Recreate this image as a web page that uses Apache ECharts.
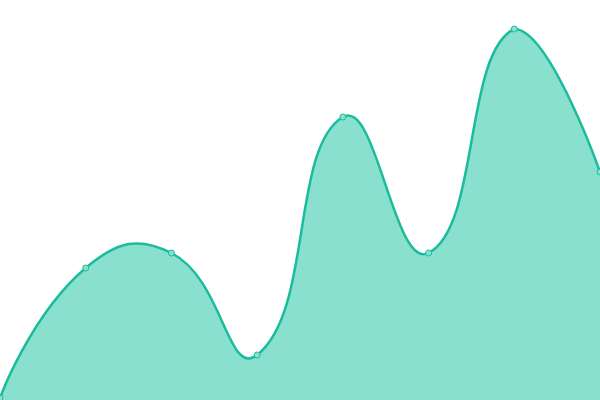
<!DOCTYPE html>
<html><head><meta charset="utf-8">
<script src="https://cdn.jsdelivr.net/npm/echarts@6/dist/echarts.min.js"></script>
<style>html,body{margin:0;padding:0;background:#fff}#c{width:600px;height:400px}</style>
</head><body><div id="c"></div>
<script>
const categories = ['1','2','3','4','5','6','7','8'];
const values = [2, 132, 147, 45, 283, 147, 371, 228];
const SMOOTH = 0.5;

function curvePath(pts, close, baseY) {
  const n = pts.length;
  let minX = Infinity, minY = Infinity, maxX = -Infinity, maxY = -Infinity;
  pts.forEach(p => { minX = Math.min(minX, p[0]); maxX = Math.max(maxX, p[0]); minY = Math.min(minY, p[1]); maxY = Math.max(maxY, p[1]); });
  const clamp = c => [Math.min(Math.max(c[0], minX), maxX), Math.min(Math.max(c[1], minY), maxY)];
  const info = pts.map((p, i) => {
    if (i === 0 || i === n - 1) return null;
    const prev = pts[i - 1], next = pts[i + 1];
    const v = [next[0] - prev[0], next[1] - prev[1]];
    const lp = Math.hypot(p[0] - prev[0], p[1] - prev[1]);
    const ln = Math.hypot(p[0] - next[0], p[1] - next[1]);
    return {v, r: ln / (ln + lp)};
  });
  let d = 'M' + pts[0][0] + ' ' + pts[0][1];
  for (let i = 0; i < n - 1; i++) {
    const p = pts[i], q = pts[i + 1];
    let c0 = p, c1 = q;
    if (info[i]) c0 = clamp([p[0] + info[i].v[0] * SMOOTH * info[i].r, p[1] + info[i].v[1] * SMOOTH * info[i].r]);
    if (info[i + 1]) c1 = clamp([q[0] - info[i + 1].v[0] * SMOOTH * (1 - info[i + 1].r), q[1] - info[i + 1].v[1] * SMOOTH * (1 - info[i + 1].r)]);
    d += ' C' + c0[0] + ' ' + c0[1] + ' ' + c1[0] + ' ' + c1[1] + ' ' + q[0] + ' ' + q[1];
  }
  if (close) {
    d += ' L' + pts[n - 1][0] + ' ' + baseY + ' L' + pts[0][0] + ' ' + baseY + ' Z';
  }
  return d;
}

const chart = echarts.init(document.getElementById('c'));
chart.setOption({
  animation: false,
  grid: {left: 0, right: 0, top: 0, bottom: 0},
  xAxis: {type: 'category', data: categories, boundaryGap: false, show: false},
  yAxis: {type: 'value', min: 0, max: 400, show: false},
  series: [{
    type: 'custom',
    data: [[0, 0]],
    z: 1,
    silent: true,
    clip: false,
    renderItem: function (params, api) {
      const pts = values.map((v, i) => api.coord([i, v]));
      const baseY = api.coord([0, 0])[1];
      return {
        type: 'group',
        children: [
          {type: 'path', shape: {pathData: curvePath(pts, true, baseY)}, style: {fill: '#8ae0ce', stroke: null}},
          {type: 'path', shape: {pathData: curvePath(pts, false, baseY)}, style: {fill: null, stroke: '#1abc9c', lineWidth: 2.5}}
        ]
      };
    }
  }, {
    type: 'line',
    data: values,
    z: 3,
    symbol: 'circle',
    symbolSize: 6,
    itemStyle: {color: '#8ae0ce', borderColor: '#1abc9c', borderWidth: 1},
    lineStyle: {width: 0, opacity: 0}
  }]
});
</script></body></html>
